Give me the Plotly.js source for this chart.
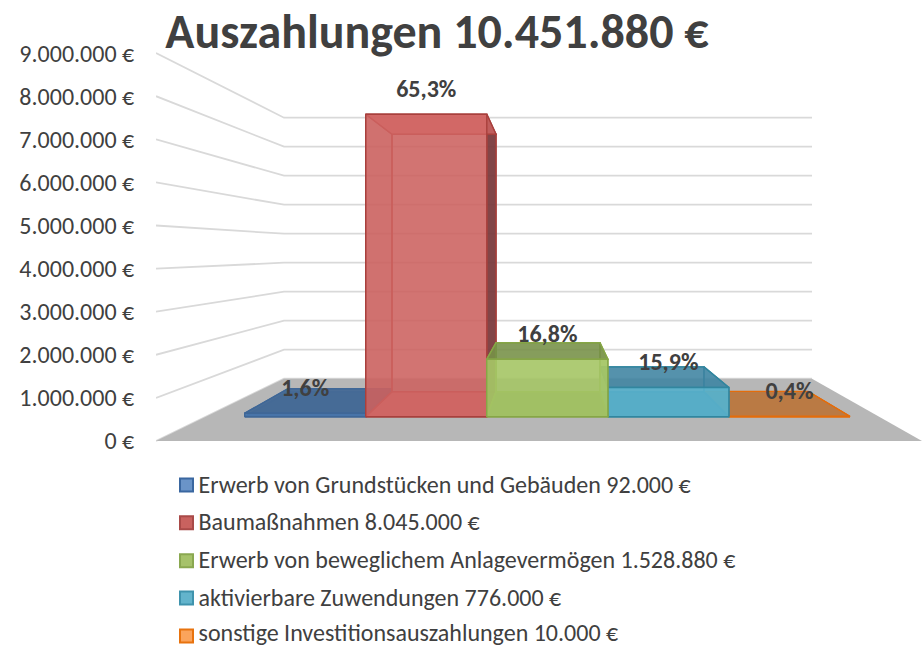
<!DOCTYPE html>
<html><head><meta charset="utf-8">
<script src="https://cdn.plot.ly/plotly-3.0.1.min.js"></script>
<style>html,body{margin:0;padding:0;background:#fff;overflow:hidden}</style>
</head><body><div id="chart" style="width:922px;height:645px"></div>
<script>
const chartTitle = 'Auszahlungen 10.451.880 €';
const categories = ['Erwerb von Grundstücken und Gebäuden', 'Baumaßnahmen', 'Erwerb von beweglichem Anlagevermögen', 'aktivierbare Zuwendungen', 'sonstige Investitionsauszahlungen'];
const values = [92000, 8045000, 1528880, 776000, 10000];
const percentLabels = ['1,6%', '65,3%', '16,8%', '15,9%', '0,4%'];
const tickValues = [0, 1e6, 2e6, 3e6, 4e6, 5e6, 6e6, 7e6, 8e6, 9e6];
const tickLabels = ['0 €', '1.000.000 €', '2.000.000 €', '3.000.000 €', '4.000.000 €', '5.000.000 €', '6.000.000 €', '7.000.000 €', '8.000.000 €', '9.000.000 €'];
const drawOrder = [0, 4, 1, 3, 2];   // far from the vanishing point first

const FONT = 'Carlito, Lato, sans-serif';
const TXT = '#404040';
const euroDE = v => v.toLocaleString('de-DE') + ' €';

// 3D look: pixel-space frame of the walls and floor
const H = 645, W = 922, FRONT_Y = 441, K_FRONT = 43.1, BACK_Y = 378.7, K_BACK = 29;
const toY = p => (FRONT_Y - p) / K_FRONT * 1e6;   // screen row -> position on the euro axis
const lerp = (a, b, t) => a + (b - a) * t;
function project(i, v, z) {                        // category slot, value, depth (0 front, 1 back)
  const x = lerp(244.7 + 121.05 * i, 288 + 104 * i, z);
  const base = lerp(416.7, 391.7, z), s = lerp(37.6, 32, z);
  return [x, toY(base - v * s / 1e6)];
}

const barStyle = [
  {edge:'#3f6797', front:'rgba(72,118,172,.85)', top:'rgba(70,106,150,.95)', side:'rgba(60,95,140,.85)', sw:'#6a94c8', swe:'#3a67a0'},
  {edge:'#a8403d', front:'rgba(208,100,98,.85)', top:'rgba(208,100,98,.80)', side:'rgba(122,58,60,.92)', sw:'#c9625f', swe:'#a94a48'},
  {edge:'#86a646', front:'rgba(166,198,102,.88)', top:'rgba(118,142,70,.85)', side:'rgba(150,185,90,.55)', sw:'#a6c26a', swe:'#8aa850'},
  {edge:'#31869f', front:'rgba(88,176,202,.92)', top:'rgba(62,130,160,.85)', side:'rgba(92,180,205,.45)', sw:'#63b4cc', swe:'#3f93ad'},
  {edge:'#e46c0a', front:'rgba(230,130,50,.85)', top:'rgba(186,122,68,1)', side:'rgba(186,122,68,1)', sw:'#fba45c', swe:'#e8730e'}
];

const traces = [];
// gridlines, along the left wall and the back wall
tickValues.forEach(v => {
  const back = toY(BACK_Y - v * K_BACK / 1e6);
  traces.push({x:[156, 284, 812], y:[v, back, back], mode:'lines', line:{color:'#d9d9d9', width:1.8}, hoverinfo:'skip'});
});
// floor
traces.push({x:[156, 284, 812, 922, 156], y:[0, toY(BACK_Y), toY(BACK_Y), toY(FRONT_Y), 0], mode:'lines',
  fill:'toself', fillcolor:'#b7b7b7', line:{color:'#b7b7b7', width:0}, hoverinfo:'skip'});

function face(pts, fill, edge) {
  const p = pts.concat([pts[0]]);
  traces.push({x:p.map(q => q[0]), y:p.map(q => q[1]), mode:'lines', fill:'toself', fillcolor:fill,
    line:{color:edge, width:1.4}, hoverinfo:'skip'});
}
drawOrder.forEach(i => {
  const v = values[i], c = barStyle[i];
  const corner = (e, high, z) => project(i + e, high ? v : 0, z);
  face([corner(0,0,1), corner(1,0,1), corner(1,1,1), corner(0,1,1)], c.side.replace(/[\d.]+\)$/, '.25)'), c.edge);      // back
  face([corner(0,0,0), corner(1,0,0), corner(1,0,1), corner(0,0,1)], c.top, c.edge);                                      // floor side
  face([corner(0,0,0), corner(0,0,1), corner(0,1,1), corner(0,1,0)], c.side.replace(/[\d.]+\)$/, '.35)'), c.edge);      // left
  face([corner(1,0,0), corner(1,0,1), corner(1,1,1), corner(1,1,0)], c.side, c.edge);                                     // right
  face([corner(0,1,0), corner(1,1,0), corner(1,1,1), corner(0,1,1)], c.top, c.edge);                                      // top
  face([corner(0,0,0), corner(1,0,0), corner(1,1,0), corner(0,1,0)], c.front, c.edge);                                    // front
});
// value labels, above the front of each bar
traces.push({
  x: values.map((v, i) => project(i + 0.5, v, 0)[0]),
  y: values.map((v, i) => project(i + 0.5, v, 0)[1] + 23.5 / K_FRONT * 1e6),
  text: percentLabels, mode:'text', textposition:'middle center',
  textfont:{family:FONT, size:24, color:TXT, weight:700}, hoverinfo:'skip', cliponaxis:false
});
// key
const keyRows = [485, 522.7, 560.7, 598, 636];
const keyTextRows = [486.5, 524, 562, 599.5, 634.5];
traces.push({
  x: categories.map(() => 186.5), y: keyRows.map(toY), mode:'markers',
  marker:{symbol:'square', size:13, color:barStyle.map(c => c.sw), line:{color:barStyle.map(c => c.swe), width:2}},
  hoverinfo:'skip', cliponaxis:false
});
traces.push({
  x: categories.map(() => 198.5), y: keyTextRows.map(toY),
  text: categories.map((c, i) => c + ' ' + euroDE(values[i])),
  mode:'text', textposition:'middle right',
  textfont:{family:FONT, size:24, color:TXT}, hoverinfo:'skip', cliponaxis:false
});

const layout = {
  width:W, height:H, showlegend:false, paper_bgcolor:'#fff', plot_bgcolor:'rgba(0,0,0,0)',
  margin:{l:156, r:0, t:0, b:0},
  font:{family:FONT, color:TXT},
  title:{text:chartTitle, font:{family:FONT, size:48, color:TXT, weight:700}, x:437/922, xanchor:'center', y:1-31/645, yanchor:'middle'},
  xaxis:{range:[156, W], visible:false, fixedrange:true},
  yaxis:{range:[toY(H), toY(0)], tickmode:'array', tickvals:tickValues, ticktext:tickLabels,
    showgrid:false, zeroline:false, showline:false, ticks:'outside', ticklen:16, tickcolor:'rgba(0,0,0,0)',
    tickfont:{family:FONT, size:24, color:TXT}, fixedrange:true}
};
Plotly.newPlot('chart', traces, layout, {displayModeBar:false, staticPlot:true});
</script></body></html>
